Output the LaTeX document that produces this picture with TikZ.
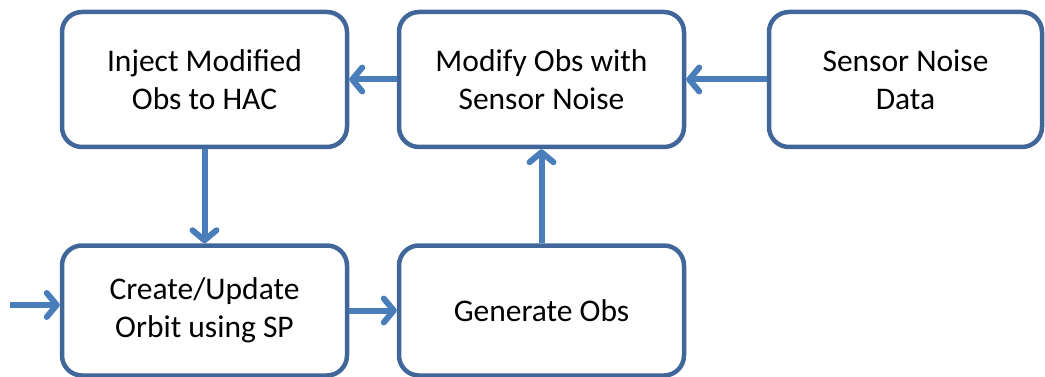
\documentclass[tikz,border=0pt]{standalone}
\usepackage{fontspec}
\setmainfont{Carlito}
\usetikzlibrary{arrows.meta}
\definecolor{boxline}{HTML}{41679A}
\definecolor{flow}{HTML}{4A7EBB}
\begin{document}
\begin{tikzpicture}[x=1pt,y=-1pt,
  procbox/.style={draw=boxline, line width=4.5pt, rounded corners=20pt, fill=white,
    align=center, inner sep=0pt, minimum height=135pt,
    font=\fontsize{31.5}{38}\selectfont},
  flowarrow/.style={draw=flow, line width=6pt,
    -{Straight Barb[length=10pt, width=24pt, line width=6pt, round]}}]
\useasboundingbox (0,0) rectangle (1045,377);
\node[procbox, minimum width=285pt] (inject) at (204.5,79.5) {Inject Modified\\Obs to HAC};
\node[procbox, minimum width=285pt] (modify) at (541.5,79.5) {Modify Obs with\\Sensor Noise};
\node[procbox, minimum width=273pt] (noise) at (905.5,79.5) {Sensor Noise\\Data};
\node[procbox, minimum width=285pt, minimum height=130pt] (orbit) at (204.5,310.5) {Create/Update\\Orbit using SP};
\node[procbox, minimum width=285pt, minimum height=130pt] (genobs) at (541.5,310.5) {Generate Obs};
\coordinate (entry) at (10,305);
\draw[flowarrow] (modify.west) -- (inject.east);
\draw[flowarrow] (noise.west) -- (modify.east);
\draw[flowarrow] (inject.south) -- (orbit.north);
\draw[flowarrow] (genobs.north) -- (modify.south);
\draw[flowarrow] (orbit.east) -- (genobs.west);
\draw[flowarrow] (entry) -- (entry -| orbit.west);
\end{tikzpicture}
\end{document}
